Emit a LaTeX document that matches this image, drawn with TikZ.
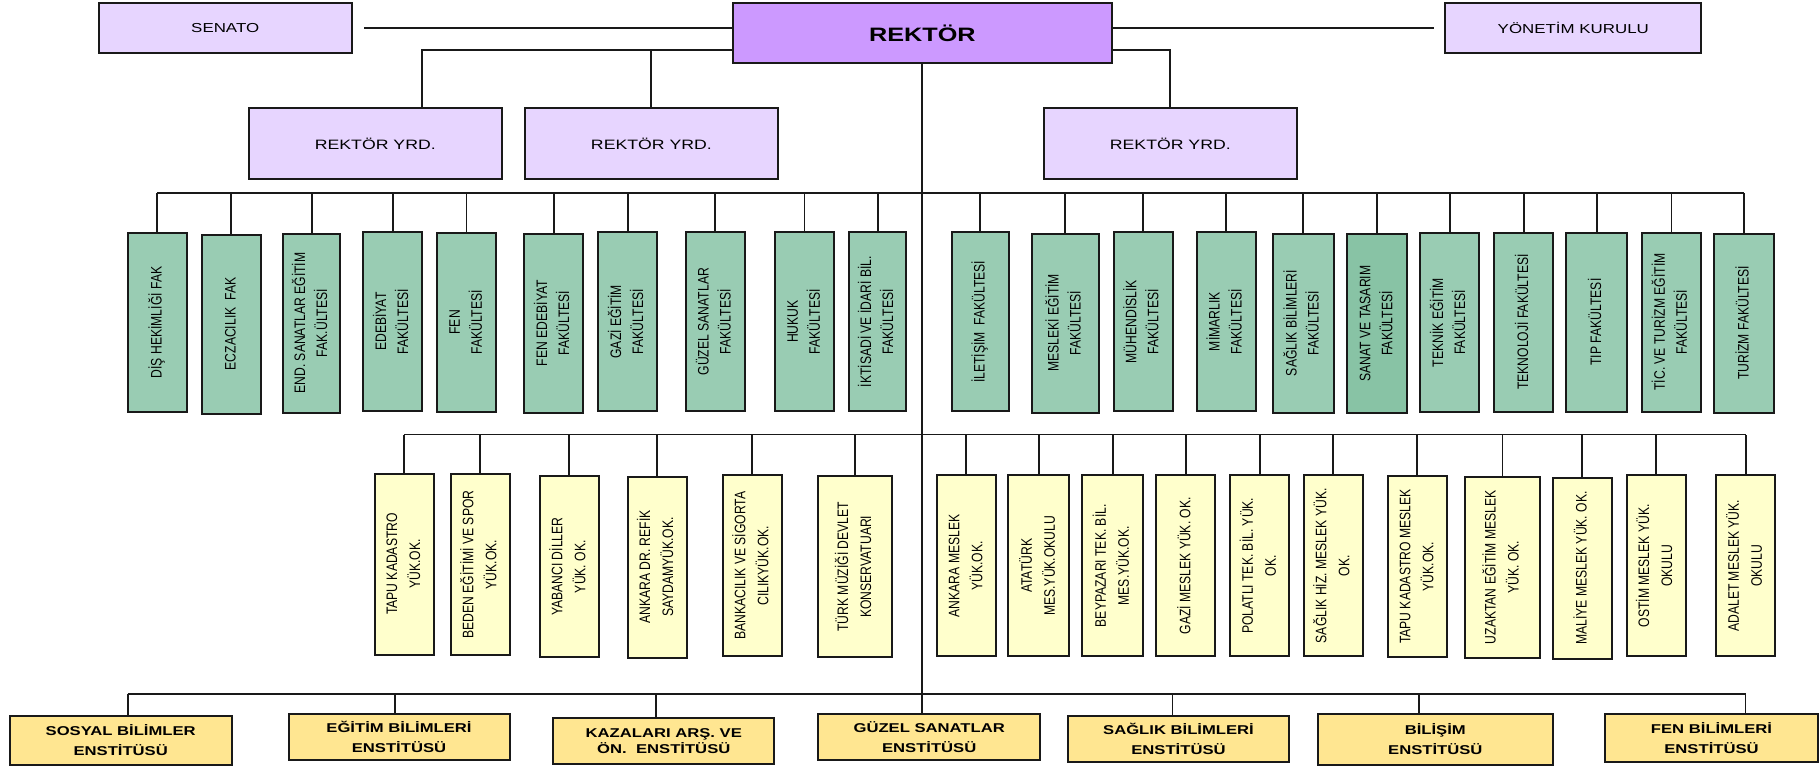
\documentclass[tikz,border=0pt]{standalone}
\usepackage{fontspec}
\usepackage{graphicx}
\setmainfont{Liberation Sans}
\newfontfamily\genisfont[FakeStretch=1.3]{Liberation Sans}
\newfontfamily\darfont[FakeStretch=0.8]{Liberation Sans}
\definecolor{rektorrenk}{RGB}{204,153,255}
\definecolor{kurulrenk}{RGB}{231,213,255}
\definecolor{fakrenk}{RGB}{153,204,179}
\definecolor{fakkoyu}{RGB}{136,195,165}
\definecolor{okulrenk}{RGB}{255,255,204}
\definecolor{enstrenk}{RGB}{255,230,145}
\def\dik#1{\rotatebox{90}{\begin{tabular}{@{}c@{}}#1\end{tabular}}}
\tikzset{
	kutu/.style={draw=black!90, line width=1pt, inner sep=0pt, align=center},
	rektorbox/.style={kutu, fill=rektorrenk, minimum width=189.6pt, minimum height=30pt, font=\genisfont\bfseries\fontsize{9.7}{12}\selectfont},
	kurulbox/.style={kutu, fill=kurulrenk, minimum height=24.7pt, font=\genisfont\fontsize{6.5}{8}\selectfont},
	yrdbox/.style={kutu, fill=kurulrenk, minimum width=126.8pt, minimum height=35.2pt, font=\genisfont\fontsize{6.8}{8}\selectfont},
	fakbox/.style={kutu, fill=fakrenk, minimum width=29.5pt, minimum height=89.5pt, font=\darfont\fontsize{7.6}{11}\selectfont},
	okulbox/.style={kutu, fill=okulrenk, minimum width=29.5pt, minimum height=90.5pt, font=\darfont\fontsize{7.6}{11.5}\selectfont},
	enstbox/.style={kutu, fill=enstrenk, minimum width=110.5pt, minimum height=23pt, font=\genisfont\bfseries\fontsize{6.4}{10}\selectfont},
	hat/.style={line width=0.95pt, draw=black!90}
}

\begin{document}
\begin{tikzpicture}[x=0.5pt,y=-0.5pt]
	%%%%% START %%%%%
	\fill[white] (0,0) rectangle (1820,766);
	
	\node[rektorbox] (rek) at (922.4,33.3) {REKTÖR};
	\node[kurulbox, minimum width=126.5pt] (sen) at (225.2,28) {SENATO};
	\node[kurulbox, minimum width=128pt] (yk) at (1573.3,28) {YÖNETİM KURULU};
	
	\node[yrdbox] (ry1) at (375.3,143.5) {REKTÖR YRD.};
	\node[yrdbox] (ry2) at (651.4,143.5) {REKTÖR YRD.};
	\node[yrdbox] (ry3) at (1170.3,143.5) {REKTÖR YRD.};
	
	% fakulteler
	\node[fakbox] (f1) at (157.2,322.5) {\dik{DİŞ HEKİMLİĞİ FAK}};
	\node[fakbox] (f2) at (231.2,324) {\dik{ECZACILIK\ \ FAK}};
	\node[fakbox, minimum width=28.5pt] (f3) at (311.8,323) {\dik{END. SANATLAR EĞİTİM\\FAK.ÜLTESİ}};
	\node[fakbox] (f4) at (392.8,321.7) {\dik{EDEBİYAT\\FAKÜLTESİ}};
	\node[fakbox] (f5) at (466.5,322.3) {\dik{FEN\\FAKÜLTESİ}};
	\node[fakbox] (f6) at (553.8,323) {\dik{FEN EDEBİYAT\\FAKÜLTESİ}};
	\node[fakbox] (f7) at (627.8,321.7) {\dik{GAZİ EĞİTİM\\FAKÜLTESİ}};
	\node[fakbox] (f8) at (715.2,321.7) {\dik{GÜZEL SANATLAR\\FAKÜLTESİ}};
	\node[fakbox] (f9) at (804.5,321.7) {\dik{HUKUK\\FAKÜLTESİ}};
	\node[fakbox, minimum width=28.5pt] (f10) at (877.7,321.7) {\dik{İKTİSADİ VE İDARİ BİL.\\FAKÜLTESİ}};
	\node[fakbox, minimum width=28.5pt] (f11) at (980.3,321.7) {\dik{İLETİŞİM\ \ FAKÜLTESİ}};
	\node[fakbox, minimum width=33.5pt] (f12) at (1065.2,323) {\dik{MESLEKİ EĞİTİM\\FAKÜLTESİ}};
	\node[fakbox] (f13) at (1143,321.7) {\dik{MÜHENDİSLİK\\FAKÜLTESİ}};
	\node[fakbox] (f14) at (1226.3,321.7) {\dik{MİMARLIK\\FAKÜLTESİ}};
	\node[fakbox, minimum width=30.5pt] (f15) at (1303.2,323) {\dik{SAĞLIK BİLİMLERİ\\FAKÜLTESİ}};
	\node[fakbox, fill=fakkoyu, minimum width=30.3pt] (f16) at (1377,323.5) {\dik{SANAT VE TASARIM\\FAKÜLTESİ}};
	\node[fakbox] (f17) at (1449.8,322.5) {\dik{TEKNİK EĞİTİM\\FAKÜLTESİ}};
	\node[fakbox] (f18) at (1523.8,322) {\dik{TEKNOLOJİ FAKÜLTESİ}};
	\node[fakbox, minimum width=30.3pt] (f19) at (1596.7,322) {\dik{TIP FAKÜLTESİ}};
	\node[fakbox] (f20) at (1671.5,322) {\dik{TİC. VE TURİZM EĞİTİM\\FAKÜLTESİ}};
	\node[fakbox, minimum width=30.2pt] (f21) at (1744.2,323) {\dik{TURİZM FAKÜLTESİ}};
	
	% yuksekokullar
	\node[okulbox] (o1) at (404.1,564) {\dik{TAPU KADASTRO\\YÜK.OK.}};
	\node[okulbox] (o2) at (480.2,564.6) {\dik{BEDEN EĞİTİMİ VE SPOR\\YÜK.OK.}};
	\node[okulbox] (o3) at (569.3,566.7) {\dik{YABANCI DİLLER\\YÜK. OK.}};
	\node[okulbox] (o4) at (657,567) {\dik{ANKARA DR. REFİK\\SAYDAMYÜK.OK.}};
	\node[okulbox] (o5) at (752.3,565.8) {\dik{BANKACILIK VE SİGORTA\\CILIKYÜK.OK.}};
	\node[okulbox, minimum width=37pt] (o6) at (855,566.7) {\dik{TÜRK MÜZİĞİ DEVLET\\KONSERVATUARI}};
	\node[okulbox] (o7) at (966.2,565.8) {\dik{ANKARA MESLEK\\YÜK.OK.}};
	\node[okulbox, minimum width=30.5pt] (o8) at (1038.8,565.8) {\dik{ATATÜRK\\MES.YÜK.OKULU}};
	\node[okulbox, minimum width=30.5pt] (o9) at (1112.8,565.8) {\dik{BEYPAZARI TEK. BİL.\\MES.YÜK.OK.}};
	\node[okulbox] (o10) at (1185.7,565.8) {\dik{GAZİ MESLEK YÜK. OK.}};
	\node[okulbox] (o11) at (1259.7,565.8) {\dik{POLATLI TEK. BİL. YÜK.\\OK.}};
	\node[okulbox] (o12) at (1333.2,565.8) {\dik{SAĞLIK HİZ. MESLEK YÜK.\\OK.}};
	\node[okulbox] (o13) at (1417.2,566.7) {\dik{TAPU KADASTRO MESLEK\\YÜK.OK.}};
	\node[okulbox, minimum width=37.5pt] (o14) at (1502.5,567.2) {\dik{UZAKTAN EĞİTİM MESLEK\\YÜK. OK.}};
	\node[okulbox] (o15) at (1582,568) {\dik{MALİYE MESLEK YÜK. OK.}};
	\node[okulbox] (o16) at (1656,565.8) {\dik{OSTİM MESLEK YÜK.\\OKULU}};
	\node[okulbox] (o17) at (1745.8,565.8) {\dik{ADALET MESLEK YÜK.\\OKULU}};
	
	% enstituler
	\node[enstbox, minimum width=110.8pt, minimum height=24.5pt] (e1) at (120.7,740.5) {SOSYAL BİLİMLER\\ENSTİTÜSÜ};
	\node[enstbox] (e2) at (399,737) {EĞİTİM BİLİMLERİ\\ENSTİTÜSÜ};
	\node[enstbox, font=\genisfont\bfseries\fontsize{6.4}{5.8}\selectfont] (e3) at (663.8,740.8) {KAZALARI ARŞ. VE\\ÖN.\ \ ENSTİTÜSÜ};
	\node[enstbox, minimum width=110.8pt] (e4) at (929.2,737.2) {GÜZEL SANATLAR\\ENSTİTÜSÜ};
	\node[enstbox] (e5) at (1178.5,738.5) {SAĞLIK BİLİMLERİ\\ENSTİTÜSÜ};
	\node[enstbox, minimum width=117.2pt, minimum height=25.5pt] (e6) at (1435.3,739.5) {BİLİŞİM\\ENSTİTÜSÜ};
	\node[enstbox, minimum width=106.8pt, minimum height=23.7pt] (e7) at (1711.5,738) {FEN BİLİMLERİ\\ENSTİTÜSÜ};
	
	% baglantilar
	\coordinate (rybus) at (0,50);
	\coordinate (fbus) at (0,193);
	\coordinate (obus) at (0,434.5);
	\coordinate (ebus) at (0,694);
	
	\draw[hat, shorten >=5.5pt] (rek.west |- sen.east) -- (sen.east);
	\draw[hat, shorten >=5pt] (rek.east |- yk.west) -- (yk.west);
	\draw[hat] (rek.west |- rybus) -| ([xshift=23.5pt]ry1.north);
	\draw[hat] (ry2.north) -- (ry2.north |- rybus);
	\draw[hat] (rek.east |- rybus) -| (ry3.north);
	
	\draw[hat] (rek.south) -- (rek.south |- e4.north);
	
	\draw[hat] (f1.north |- fbus) -- (f21.north |- fbus);
	\foreach \i in {1,...,21}
		\draw[hat] (f\i.north) -- (f\i.north |- fbus);
	
	\draw[hat] (o1.north |- obus) -- (o17.north |- obus);
	\foreach \i in {1,...,17}
		\draw[hat] (o\i.north) -- (o\i.north |- obus);
	
	\draw[hat] ([xshift=3.5pt]e1.north |- ebus) -- ([xshift=17pt]e7.north |- ebus);
	\foreach \i/\dx in {1/3.5,2/-2.2,3/-4,5/-3,6/-8,7/17}
		\draw[hat] ([xshift=\dx pt]e\i.north) -- ([xshift=\dx pt]e\i.north |- ebus);
	
	%%%%% END %%%%%
\end{tikzpicture}
\end{document}
